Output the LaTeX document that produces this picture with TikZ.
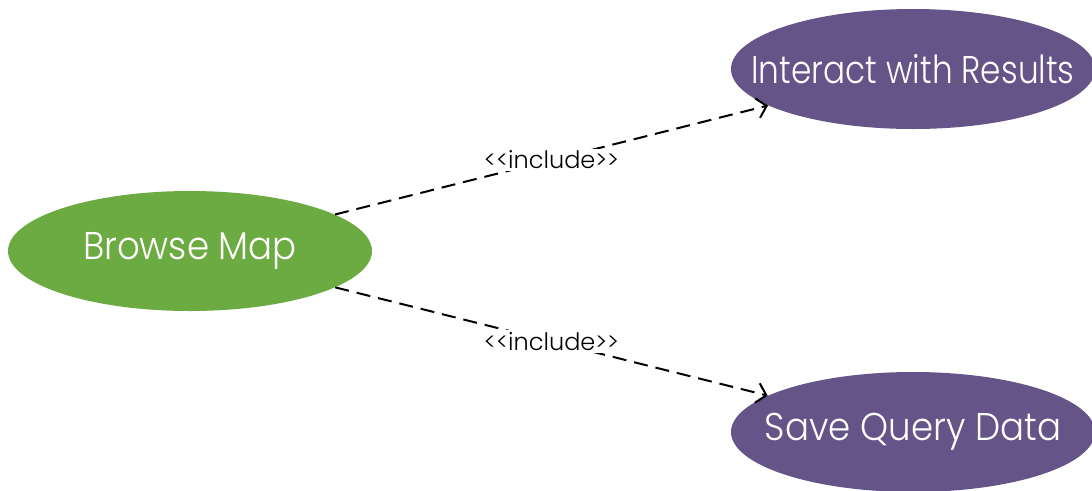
\documentclass[tikz,border=0pt]{standalone}
\usepackage{fontspec}
\setmainfont{Poppins Light}
\newfontfamily\casefont{Poppins Light}[FakeStretch=0.92]
\usetikzlibrary{shapes.geometric,arrows.meta}
\definecolor{usecasegreen}{HTML}{6CAA42}
\definecolor{usecasepurple}{HTML}{655487}
% case names take no width, so every ellipse keeps its fixed size
\newcommand\casename[2][1]{\makebox[0pt][c]{\scalebox{#1}[1]{#2}}}
\tikzset{
  usecase/.style={ellipse, inner sep=0pt, minimum width=364*0.75pt, minimum height=120*0.75pt,
    text=white, font=\casefont\fontsize{29}{31}\selectfont},
  basecase/.style={usecase, fill=usecasegreen},
  subcase/.style={usecase, fill=usecasepurple},
  includes/.style={draw=black, line width=1.5pt, dash pattern=on 10.5pt off 6pt,
    -{Straight Barb[length=7pt,width=15pt,line width=1.5pt]}},
  stereotype/.style={fill=white, inner sep=1.5pt, font=\fontsize{18}{19}\selectfont}
}
\begin{document}
\begin{tikzpicture}[x=0.75pt, y=-0.75pt]
  \useasboundingbox (0,0) rectangle (1092,490);
  \clip (0,0) rectangle (1092,490);
  \node[basecase] (browse) at (190,251) {\casename{Browse Map}};
  \node[subcase] (interact) at (913,69) {\casename[0.92]{Interact with Results}};
  \node[subcase] (save) at (913,432) {\casename{Save Query Data}};
  \draw[includes] (browse) -- node[stereotype] {<{}<include>{}>} (interact);
  \draw[includes] (browse) -- node[stereotype] {<{}<include>{}>} (save);
\end{tikzpicture}
\end{document}
